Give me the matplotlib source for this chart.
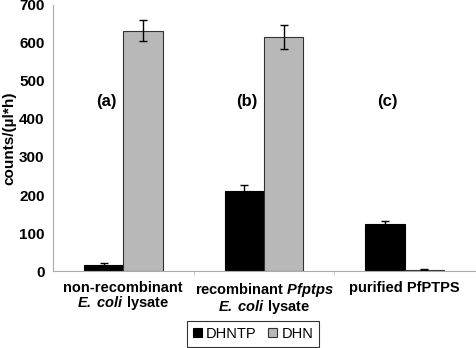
import matplotlib
matplotlib.use('Agg')
import matplotlib.pyplot as plt
import numpy as np

plt.rcParams['font.family'] = 'Liberation Sans'
plt.rcParams['mathtext.fontset'] = 'custom'
plt.rcParams['mathtext.rm'] = 'Liberation Sans:bold'
plt.rcParams['mathtext.bfit'] = 'Liberation Sans:bold:italic'

# Data
groups = ['non-recombinant\n$\\mathbfit{E.\\:coli}$ lysate',
          'recombinant $\\mathbfit{Pfptps}$\n$\\mathbfit{E.\\:coli}$ lysate',
          'purified PfPTPS']
panel_tags = ['(a)', '(b)', '(c)']
dhntp = [15, 211, 125]
dhntp_err = [6, 15, 7]
dhn = [632, 616, 4]
dhn_err = [28, 32, 2]

fig = plt.figure(figsize=(4.76, 3.48), dpi=100)
ax = fig.add_axes([0.111, 0.221, 0.887, 0.765])

x = np.arange(len(groups))
w = 0.28
ax.bar(x - w / 2, dhntp, w, yerr=dhntp_err, color='black', edgecolor='black',
       linewidth=0.8, capsize=3, error_kw={'elinewidth': 1, 'capthick': 1}, label='DHNTP')
ax.bar(x + w / 2, dhn, w, yerr=dhn_err, color='#b8b8b8', edgecolor='#333333',
       linewidth=0.8, capsize=3, error_kw={'elinewidth': 1, 'capthick': 1}, label='DHN')

for xi, tag in zip(x, panel_tags):
    ax.text(xi - 0.12, 447, tag, ha='center', va='center', fontsize=12, fontweight='bold')

ax.set_xlim(-0.5, 2.5)
ax.set_ylim(0, 700)
ax.set_yticks(range(0, 701, 100))
ax.set_yticklabels([str(v) for v in range(0, 701, 100)], fontsize=11, fontweight='bold')
ax.set_xticks(x)
ax.set_xticklabels(groups, fontsize=10.5, fontweight='bold', linespacing=0.95, va='top')
ax.tick_params(axis='x', length=0, pad=7)
ax.tick_params(axis='y', length=0, pad=6)
ax.set_xticks([0.5, 1.5], minor=True)
ax.tick_params(axis='x', which='minor', length=3, color='#bbbbbb', direction='out')
ax.set_ylabel('counts/(µl*h)', fontsize=11, fontweight='bold', labelpad=2)

for s in ['top', 'right']:
    ax.spines[s].set_visible(False)
for s in ['left', 'bottom']:
    ax.spines[s].set_color('#aaaaaa')

leg = fig.legend(loc='center', bbox_to_anchor=(253 / 476, 1 - 334 / 348), ncol=2,
                 fontsize=10.5, frameon=True, fancybox=False, edgecolor='black',
                 handlelength=0.6, handleheight=0.6, handletextpad=0.3,
                 columnspacing=0.8, borderpad=0.4, borderaxespad=0)
leg.get_frame().set_linewidth(0.8)

fig.savefig('out.png', dpi=100)
